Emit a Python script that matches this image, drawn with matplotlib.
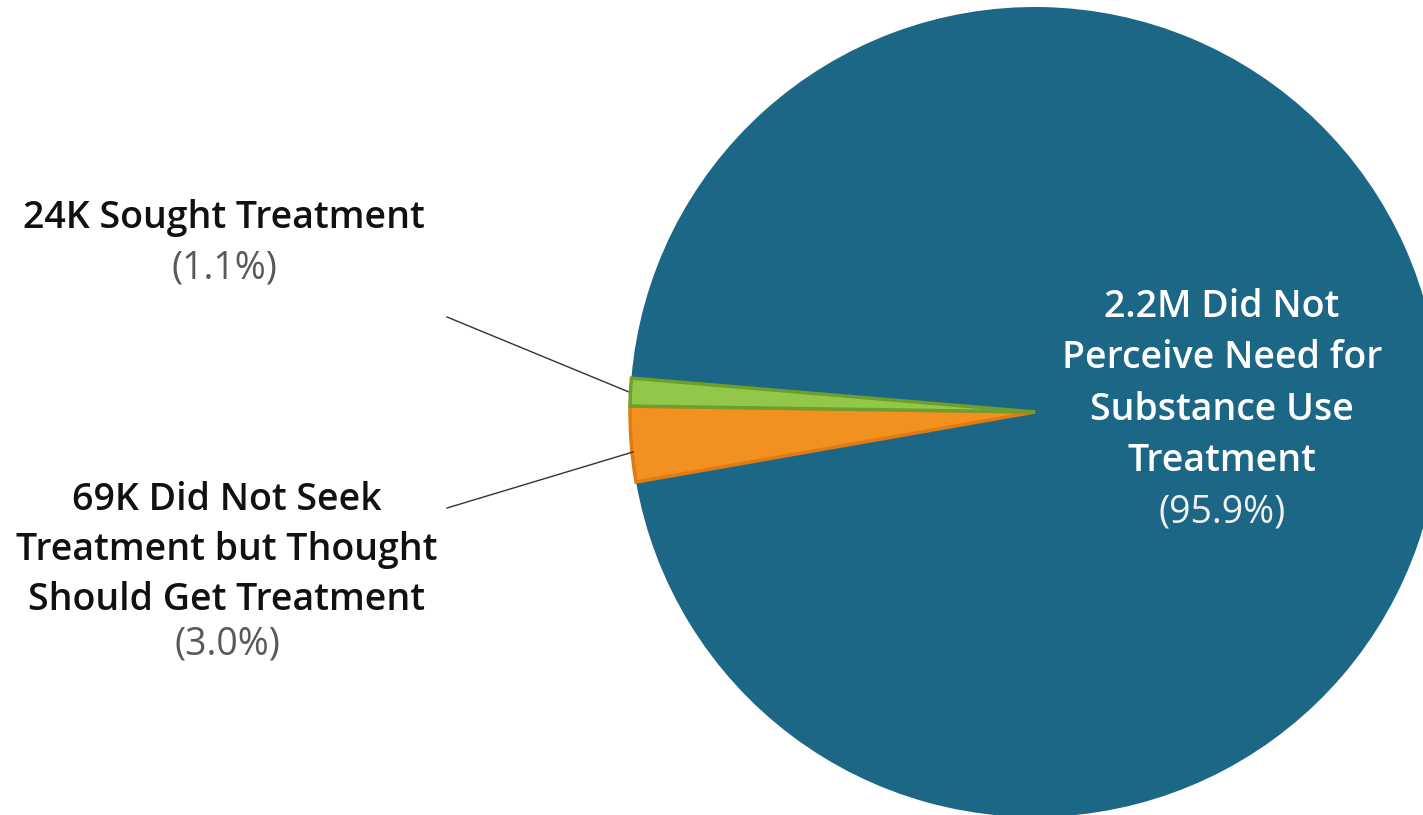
import matplotlib.pyplot as plt

labels = ['24K Sought Treatment',
          '69K Did Not Seek\nTreatment but Thought\nShould Get Treatment',
          '2.2M Did Not\nPerceive Need for\nSubstance Use\nTreatment']
pcts = [1.1, 3.0, 95.9]
colors = ['#92C84A', '#F39120', '#1C6785']
edges = ['#6E9E2C', '#E07A12', '#1C6785']

W, H = 1423, 815
fig = plt.figure(figsize=(W / 100, H / 100), dpi=100)
ax = fig.add_axes([0, 0, 1, 1])

# pie centre / radius in pixel units (y up)
cx, cy, r = 1035, 403, 405
wedges, _ = ax.pie(pcts, colors=colors, startangle=175.2, counterclock=True,
                   center=(cx, cy), radius=r,
                   wedgeprops=dict(linewidth=2.5))
for w, ec in zip(wedges, edges):
    w.set_edgecolor(ec)
wedges[2].set_linewidth(0)
# draw the small slices on top so their outlines show
wedges[0].set_zorder(3)
wedges[1].set_zorder(2)

ax.set_xlim(0, W)
ax.set_ylim(0, H)
ax.set_aspect('equal')
ax.axis('off')

font = 'Open Sans'
fs = 27
# leader lines
ax.plot([447, 629], [H - 317, H - 392], color='#333333', lw=1)
ax.plot([447, 633], [H - 508, H - 452], color='#333333', lw=1)

# left labels
ax.text(224, H - 218, labels[0], ha='center', va='center', fontsize=fs,
        family=font, weight='semibold', color='#111111')
ax.text(224, H - 268, f'({pcts[0]:.1f}%)', ha='center', va='center', fontsize=fs,
        family=font, color='#595959')

ax.text(227, H - 550, labels[1], ha='center', va='center', fontsize=fs,
        family=font, weight='semibold', color='#111111', linespacing=1.4)
ax.text(227, H - 644, f'({pcts[1]:.1f}%)', ha='center', va='center', fontsize=fs,
        family=font, color='#595959')

# label inside the big slice
ax.text(1222, H - 384, labels[2], ha='center', va='center', fontsize=fs,
        family=font, weight='semibold', color='white', linespacing=1.47)
ax.text(1222, H - 513, f'({pcts[2]:.1f}%)', ha='center', va='center', fontsize=fs,
        family=font, color='#F0F0F0')

fig.savefig('out.png', dpi=100)
